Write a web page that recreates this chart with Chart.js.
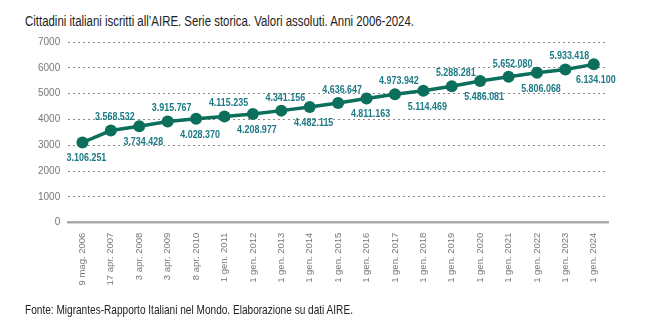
<!DOCTYPE html>
<html><head><meta charset="utf-8">
<script src="https://cdn.jsdelivr.net/npm/chart.js@4"></script>
<style>
html,body{margin:0;padding:0;background:#fff;width:664px;height:326px;overflow:hidden;}
#wrap{position:relative;width:664px;height:326px;}
#title{position:absolute;left:25px;top:12px;font-family:"Liberation Sans",Arial,sans-serif;font-size:15.5px;color:#222;white-space:nowrap;transform:scaleX(0.737);transform-origin:0 0;}
#foot{position:absolute;left:25px;top:302px;font-family:"Liberation Sans",Arial,sans-serif;font-size:13.5px;color:#222;white-space:nowrap;transform:scaleX(0.747);transform-origin:0 0;}
canvas{position:absolute;left:0;top:0;}
</style></head>
<body><div id="wrap">
<div id="title">Cittadini italiani iscritti all’AIRE. Serie storica. Valori assoluti. Anni 2006-2024.</div>
<canvas id="c" width="664" height="326"></canvas>
<div id="foot">Fonte: Migrantes-Rapporto Italiani nel Mondo. Elaborazione su dati AIRE.</div>
</div>
<script>
const categories = ["9 mag. 2006","17 apr. 2007","3 apr. 2008","3 apr. 2009","8 apr. 2010","1 gen. 2011","1 gen. 2012","1 gen. 2013","1 gen. 2014","1 gen. 2015","1 gen. 2016","1 gen. 2017","1 gen. 2018","1 gen. 2019","1 gen. 2020","1 gen. 2021","1 gen. 2022","1 gen. 2023","1 gen. 2024"];
const values = [3106.251,3568.532,3734.428,3915.767,4028.370,4115.235,4208.977,4341.156,4482.115,4636.647,4811.163,4973.942,5114.469,5288.281,5486.081,5652.080,5806.068,5933.418,6134.100];
const valueLabels = ["3.106.251","3.568.532","3.734.428","3.915.767","4.028.370","4.115.235","4.208.977","4.341.156","4.482.115","4.636.647","4.811.163","4.973.942","5.114.469","5.288.281","5.486.081","5.652.080","5.806.068","5.933.418","6.134.100"];
const yTicks = [0,1000,2000,3000,4000,5000,6000,7000];

const labelPlugin = {
  id:'vlabels',
  afterDatasetsDraw(chart){
    const ctx = chart.ctx;
    const meta = chart.getDatasetMeta(0);
    const sx = 0.85;
    ctx.save();
    ctx.font = 'bold 10.5px "Liberation Sans",Arial,sans-serif';
    ctx.fillStyle = '#1b7a86';
    ctx.textAlign = 'center';
    ctx.textBaseline = 'middle';
    meta.data.forEach((pt,i)=>{
      const below = (i % 2 === 0);
      const x = pt.x + (i===18 ? 2 : 4);
      const y = below ? pt.y + 16 : pt.y - 13;
      ctx.save();
      ctx.translate(x, y);
      ctx.scale(sx, 1);
      ctx.fillText(valueLabels[i], 0, 0);
      ctx.restore();
    });
    ctx.restore();
  }
};

new Chart(document.getElementById('c'),{
  type:'line',
  data:{labels:categories,datasets:[{
    data:values,
    borderColor:'#0b6f5c',
    backgroundColor:'#0b6f5c',
    borderWidth:3.5,
    pointRadius:6,
    pointHoverRadius:6,
    pointBackgroundColor:'#0b6f5c',
    pointBorderWidth:0,
    tension:0
  }]},
  options:{
    responsive:false,
    animation:false,
    events:[],
    layout:{padding:{top:42,left:30,right:56,bottom:30.5}},
    plugins:{legend:{display:false},tooltip:{enabled:false}},
    scales:{
      x:{
        offset:true,
        grid:{display:false,drawTicks:false},
        border:{display:true,color:'#aaaaaa',width:2.5},
        ticks:{color:'#777',font:{family:'Arial, "Liberation Sans", sans-serif',size:9.5},maxRotation:90,minRotation:90,padding:10,autoSkip:false}
      },
      y:{
        min:0,max:7000,
        afterBuildTicks(axis){axis.ticks = yTicks.map(v=>({value:v}));},
        grid:{color:'#8a8a8a',lineWidth:1,drawTicks:false},
        border:{display:false,dash:[2,3]},
        ticks:{color:'#777',font:{family:'Arial, "Liberation Sans", sans-serif',size:10},padding:8,callback:(v)=>String(v)}
      }
    }
  },
  plugins:[labelPlugin]
});
</script>
</body></html>
